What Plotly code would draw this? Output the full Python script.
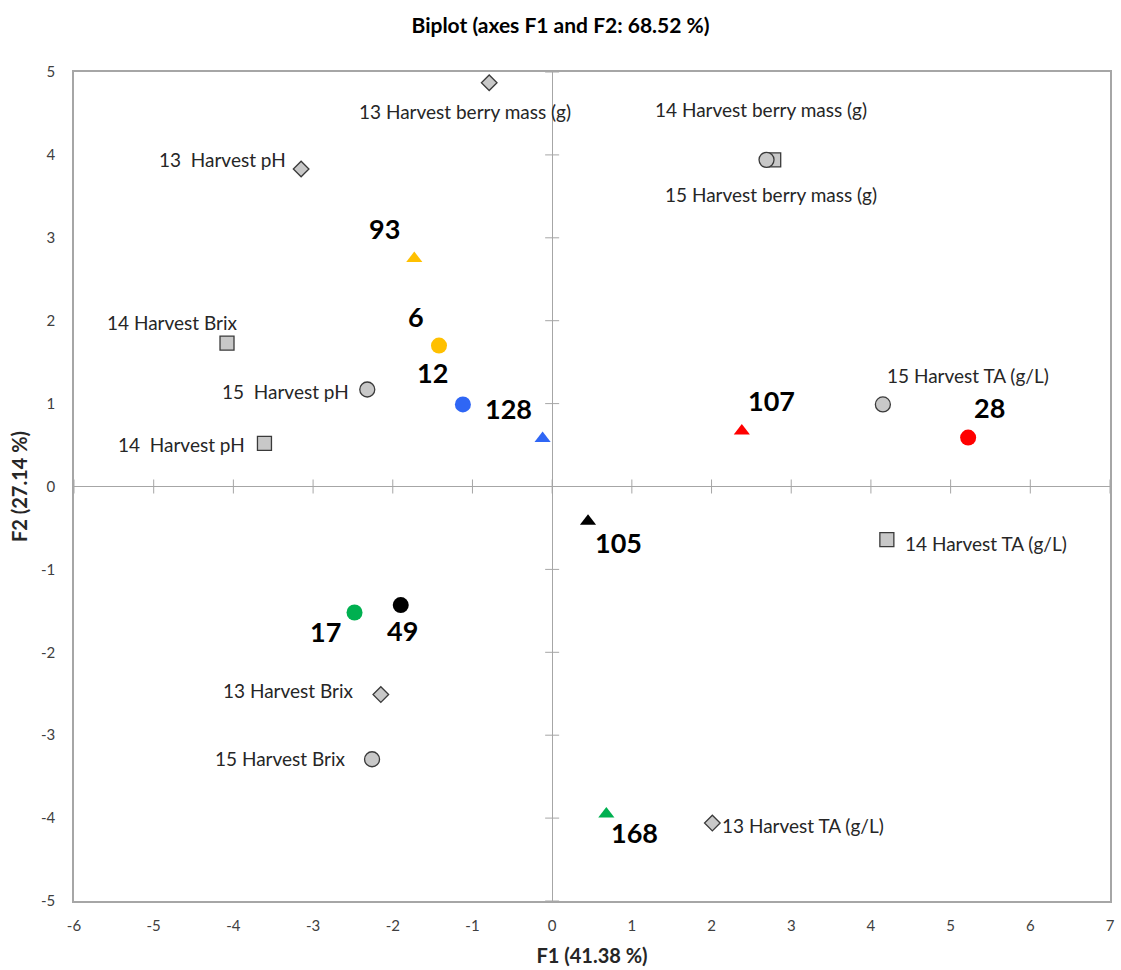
import plotly.graph_objects as go

# --- Observations (genotypes) ---
obs_names = ["93", "6", "12", "128", "107", "28", "105", "168", "17", "49"]
obs_f1 = [-1.73, -1.42, -1.12, -0.12, 2.38, 5.22, 0.45, 0.68, -2.48, -1.90]
obs_f2 = [2.75, 1.70, 0.99, 0.58, 0.67, 0.59, -0.42, -3.95, -1.52, -1.43]
obs_symbols = ["triangle-up", "circle", "circle", "triangle-up", "triangle-up",
               "circle", "triangle-up", "triangle-up", "circle", "circle"]
obs_colors = ["#FFC000", "#FFC000", "#2F66F5", "#2F66F5", "#FF0000",
              "#FF0000", "#000000", "#00B050", "#00B050", "#000000"]

# --- Active variables ---
var_names = [
    "13 Harvest berry mass (g)", "13  Harvest pH", "14 Harvest berry mass (g)",
    "15 Harvest berry mass (g)", "14 Harvest Brix", "15  Harvest pH",
    "14  Harvest pH", "15 Harvest TA (g/L)", "14 Harvest TA (g/L)",
    "13 Harvest Brix", "15 Harvest Brix", "13 Harvest TA (g/L)",
]
var_f1 = [-0.79, -3.15, 2.78, 2.69, -4.08, -2.32, -3.61, 4.15, 4.20, -2.15, -2.26, 2.01]
var_f2 = [4.87, 3.83, 3.94, 3.94, 1.73, 1.17, 0.52, 0.99, -0.64, -2.51, -3.29, -4.06]
var_symbols = ["diamond", "diamond", "square", "circle", "square", "circle",
               "square", "circle", "square", "diamond", "circle", "diamond"]

# Axis ticks
x_ticks = list(range(-6, 8))
x_tick_text = ["-6", "-5", "-4", "-3", "-2", "-1", "0", "1", "2", "3", "4", "5", "6", "7"]
y_ticks = list(range(-5, 6))
y_tick_text = ["-5", "-4", "-3", "-2", "-1", "0", "1", "2", "3", "4", "5"]

# Label placement (xanchor, xshift px, yshift px)
obs_label_place = [
    ("center", -30, 30), ("center", -23, 29), ("center", -30, 32), ("center", -34, 30),
    ("center", 30, 30), ("center", 21, 30), ("center", 30, -21), ("center", 28, -19),
    ("center", -29, -19), ("center", 2, -25),
]
var_label_place = [
    ("center", -24, -29), ("right", -13, 9), ("center", -13, 50), ("center", 4, -35),
    ("center", -55, 21), ("right", -16, -2), ("right", -17, -1), ("left", 2, 29),
    ("left", 16, -4), ("right", -25, 4), ("right", -24, 1), ("left", 8, -2),
]

FONT = "Lato, 'Open Sans', sans-serif"
FRAME = "#A6A6A6"

fig = go.Figure()

# Cross ticks along the zero lines
fig.add_trace(go.Scatter(
    x=x_ticks, y=[0] * len(x_ticks), mode="markers", hoverinfo="skip",
    marker=dict(symbol="line-ns", size=10, opacity=1, line=dict(width=1, color=FRAME)),
))
fig.add_trace(go.Scatter(
    x=[0] * len(y_ticks), y=y_ticks, mode="markers", hoverinfo="skip",
    marker=dict(symbol="line-ew", size=10, opacity=1, line=dict(width=1, color=FRAME)),
))

# Variables
fig.add_trace(go.Scatter(
    x=var_f1, y=var_f2, mode="markers", text=var_names, hoverinfo="text",
    marker=dict(symbol=var_symbols, size=[12, 12, 14, 15, 14, 15, 14, 15, 14, 12, 15, 12],
                opacity=1, color="#C8C8C8", line=dict(width=1.3, color="#3A3A3A")),
))

# Observations
fig.add_trace(go.Scatter(
    x=obs_f1, y=obs_f2, mode="markers", text=obs_names, hoverinfo="text",
    marker=dict(symbol=obs_symbols,
                size=[14 if s == "triangle-up" else 16 for s in obs_symbols],
                opacity=1, color=obs_colors, line=dict(width=0)),
))

annotations = []
for name, x, y, (anchor, dx, dy) in zip(var_names, var_f1, var_f2, var_label_place):
    annotations.append(dict(
        x=x, y=y, text=name, showarrow=False, xanchor=anchor, yanchor="middle",
        xshift=dx, yshift=dy, font=dict(family=FONT, size=19, color="#262626"),
    ))
for name, x, y, (anchor, dx, dy) in zip(obs_names, obs_f1, obs_f2, obs_label_place):
    annotations.append(dict(
        x=x, y=y, text=f"<b>{name}</b>", showarrow=False, xanchor=anchor, yanchor="middle",
        xshift=dx, yshift=dy, font=dict(family=FONT, size=27, color="#000000"),
    ))

fig.update_layout(
    width=1121, height=970,
    margin=dict(l=74, r=6, t=72, b=68),
    paper_bgcolor="white", plot_bgcolor="white",
    showlegend=False,
    font=dict(family=FONT, color="#404040"),
    title=dict(text="<b>Biplot (axes F1 and F2: 68.52 %)</b>", x=0.5, xanchor="center",
               y=0.974, yanchor="middle", font=dict(family=FONT, size=21, color="#000000")),
    annotations=annotations,
)
fig.update_xaxes(
    range=[-6, 7], tickvals=x_ticks, ticktext=x_tick_text, ticks="", showgrid=False,
    showline=True, mirror=True, linecolor=FRAME, linewidth=1.5,
    zeroline=True, zerolinecolor=FRAME, zerolinewidth=1,
    tickfont=dict(family=FONT, size=15, color="#404040"),
    ticklabelstandoff=10,
    title=dict(text="<b>F1 (41.38 %)</b>", font=dict(family=FONT, size=20, color="#262626"),
               standoff=16),
)
fig.update_yaxes(
    range=[-5, 5], tickvals=y_ticks, ticktext=y_tick_text, ticks="", showgrid=False,
    showline=True, mirror=True, linecolor=FRAME, linewidth=1.5,
    zeroline=True, zerolinecolor=FRAME, zerolinewidth=1,
    tickfont=dict(family=FONT, size=15, color="#404040"),
    ticklabelstandoff=14,
    title=dict(text="<b>F2 (27.14 %)</b>", font=dict(family=FONT, size=20, color="#262626"),
               standoff=8),
)

fig.write_html("out.html")
